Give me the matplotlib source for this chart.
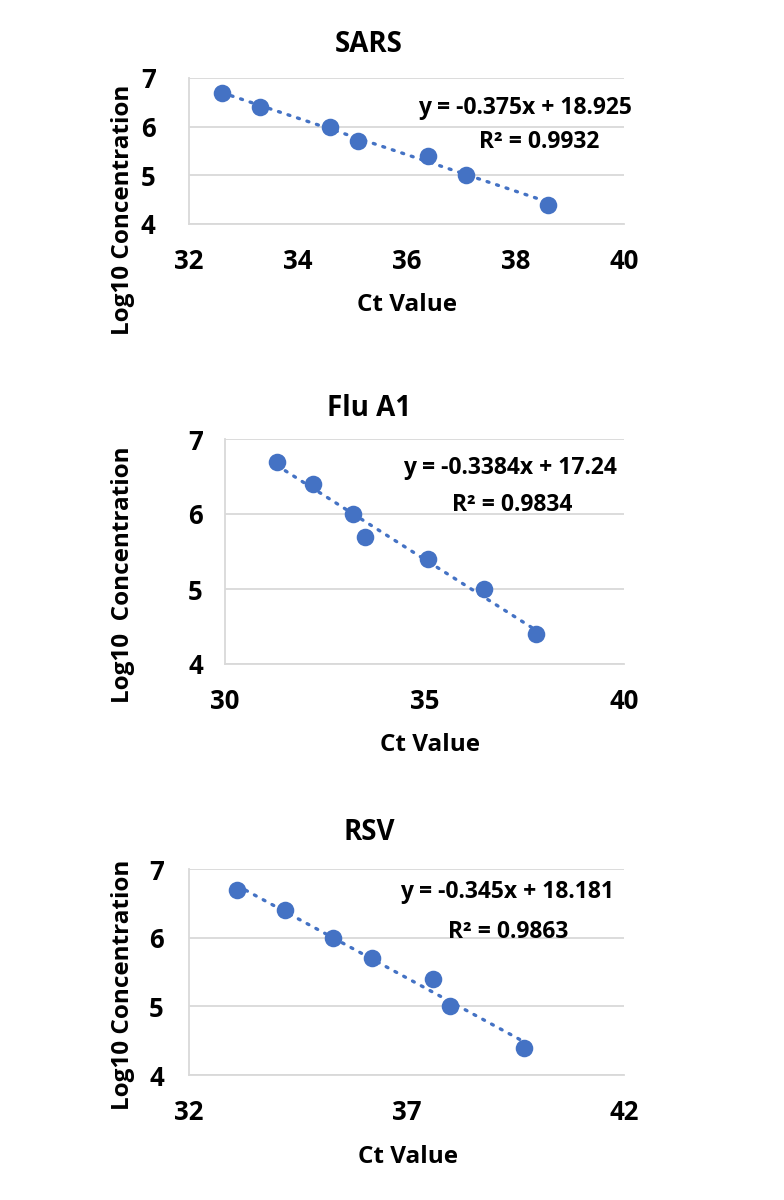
import numpy as np
import matplotlib
matplotlib.use("Agg")
import matplotlib.pyplot as plt

plt.rcParams['font.family'] = ['Open Sans', 'DejaVu Sans']
plt.rcParams['font.weight'] = 'bold'

# data
sars_ct = [32.6, 33.3, 34.6, 35.1, 36.4, 37.1, 38.6]
sars_log = [6.7, 6.4, 6.0, 5.7, 5.4, 5.0, 4.4]

flu_ct = [31.3, 32.2, 33.2, 33.5, 35.1, 36.5, 37.8]
flu_log = [6.7, 6.4, 6.0, 5.7, 5.4, 5.0, 4.4]

rsv_ct = [33.1, 34.2, 35.3, 36.2, 37.6, 38.0, 39.7]
rsv_log = [6.7, 6.4, 6.0, 5.7, 5.4, 5.0, 4.4]

titles = ["SARS", "Flu A1", "RSV"]
eq_texts = ["y = -0.375x + 18.925", "y = -0.3384x + 17.24", "y = -0.345x + 18.181"]
r2_texts = ["R² = 0.9932", "R² = 0.9834", "R² = 0.9863"]
ylabels = ["Log10 Concentration", "Log10  Concentration", "Log10 Concentration"]
x_ticks = [[32, 34, 36, 38, 40], [30, 35, 40], [32, 37, 42]]
y_ticks = [4, 5, 6, 7]

blue = "#4472C4"
grid_col = "#D9D9D9"

fig = plt.figure(figsize=(7.84, 12), dpi=100)
W, H = 784, 1200


def px_axes(left, right, top, bottom):
    return fig.add_axes([left / W, 1 - bottom / H, (right - left) / W, (bottom - top) / H])


ax_boxes = [(189, 624, 78, 224), (225, 624, 439, 664), (189, 624, 869, 1075)]
title_y = [45, 408, 832]
ylabel_pos = [(123, 210), (123, 575), (123, 985)]
xlabel_pos = [(407, 305), (430, 745), (408, 1157)]
eq_pos = [((38.18, 6.38), (38.44, 5.68)),
          ((37.14, 6.61), (37.19, 6.12)),
          ((39.31, 6.66), (39.33, 6.08))]
ypads = [24, 16, 18]

series = [(sars_ct, sars_log), (flu_ct, flu_log), (rsv_ct, rsv_log)]

for i, (xs, ys) in enumerate(series):
    ax = px_axes(*ax_boxes[i])
    xs = np.array(xs)
    ys = np.array(ys)

    slope, icpt = np.polyfit(xs, ys, 1)
    xl = np.array([xs.min(), xs.max()])
    ax.plot(xl, slope * xl + icpt, color=blue, linewidth=2.4,
            linestyle=(0, (0.6, 2.4)), dash_capstyle='round', zorder=2)
    ax.scatter(xs, ys, s=160, color=blue, zorder=3, linewidths=0)

    ax.set_xlim(x_ticks[i][0], x_ticks[i][-1])
    ax.set_ylim(4, 7)
    ax.set_xticks(x_ticks[i])
    ax.set_yticks(y_ticks)
    ax.yaxis.grid(True, color=grid_col, linewidth=1.3)
    ax.set_axisbelow(True)
    for s in ["top", "right"]:
        ax.spines[s].set_visible(False)
    for s in ["left", "bottom"]:
        ax.spines[s].set_color(grid_col)
        ax.spines[s].set_linewidth(1.3)
    ax.tick_params(axis='both', length=0, labelsize=18.5)
    ax.tick_params(axis='x', pad=17)
    ax.tick_params(axis='y', pad=ypads[i])
    for lab in ax.get_xticklabels() + ax.get_yticklabels():
        lab.set_fontweight('bold')

    (ex, ey), (rx, ry) = eq_pos[i]
    ax.text(ex, ey, eq_texts[i], ha='center', va='center', fontsize=16.5, fontweight='bold')
    ax.text(rx, ry, r2_texts[i], ha='center', va='center', fontsize=16.5, fontweight='bold')

    fig.text(369 / W, 1 - title_y[i] / H, titles[i], ha='center', va='center',
             fontsize=20, fontweight='bold')
    lx, ly = ylabel_pos[i]
    fig.text(lx / W, 1 - ly / H, ylabels[i], ha='center', va='center', rotation=90,
             fontsize=17.5, fontweight='bold')
    cx, cy = xlabel_pos[i]
    fig.text(cx / W, 1 - cy / H, "Ct Value", ha='center', va='center',
             fontsize=17.5, fontweight='bold')

fig.savefig("out.png", dpi=100)
